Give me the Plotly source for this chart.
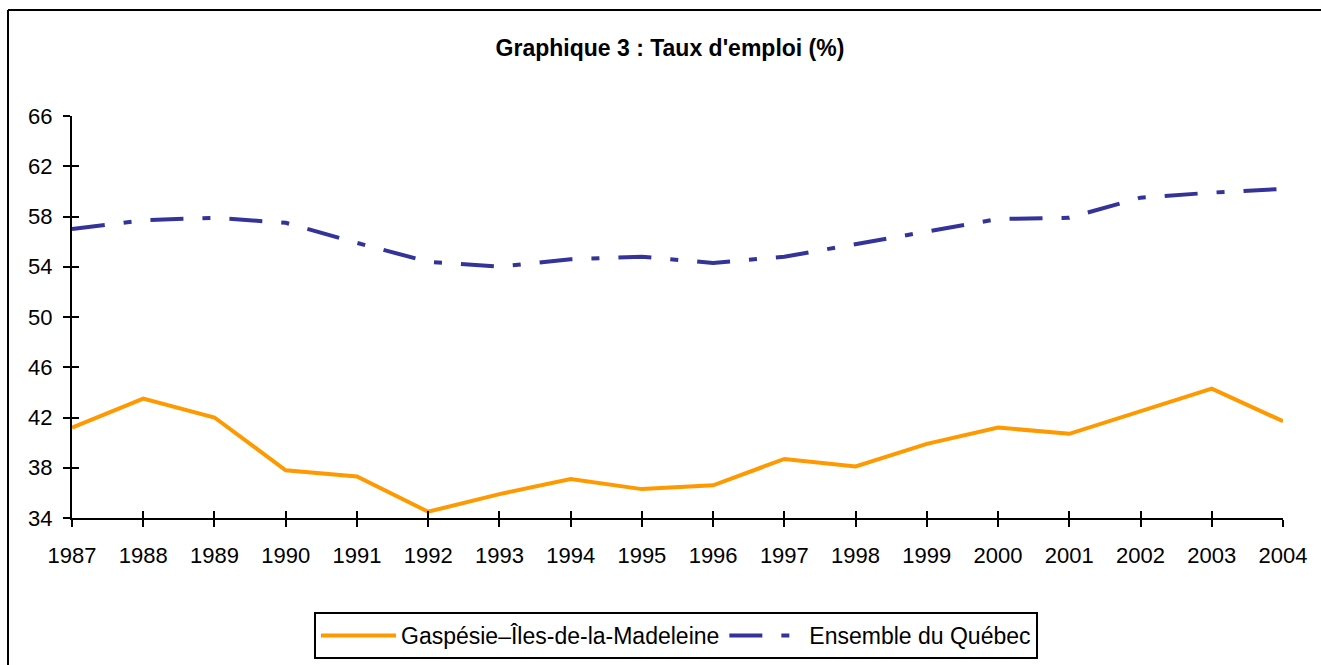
import plotly.graph_objects as go

years = [str(y) for y in range(1987, 2005)]
gaspesie = [41.2, 43.5, 42.0, 37.8, 37.3, 34.5, 35.9, 37.1, 36.3, 36.6, 38.7, 38.1, 39.9, 41.2, 40.7, 42.5, 44.3, 41.7]
quebec = [57.0, 57.7, 57.9, 57.5, 55.9, 54.4, 54.0, 54.6, 54.8, 54.3, 54.8, 55.8, 56.8, 57.8, 57.9, 59.5, 59.9, 60.2]
y_ticks = [34, 38, 42, 46, 50, 54, 58, 62, 66]

W, H = 1321, 665
L, R, T, B = 72, 38, 116, 147
pw, ph = W - L - R, H - T - B

fig = go.Figure()
fig.add_trace(go.Scatter(x=years, y=gaspesie, mode="lines", name="Gaspésie–Îles-de-la-Madeleine",
                         line=dict(color="#FF9900", width=4)))
fig.add_trace(go.Scatter(x=years, y=quebec, mode="lines", name="Ensemble du Québec",
                         line=dict(color="#333399", width=4, dash="33px,19px,8px,19px")))

font = "Liberation Sans, Arial, sans-serif"
axis_common = dict(showline=True, linecolor="black", linewidth=2, ticks="outside", ticklen=7,
                   tickwidth=2, tickcolor="black", showgrid=False, zeroline=False, automargin=False,
                   tickfont=dict(family=font, size=22, color="black"))
fig.update_layout(
    width=W, height=H,
    margin=dict(l=L, r=R, t=T, b=B, autoexpand=False),
    paper_bgcolor="white", plot_bgcolor="white",
    title=dict(text="<b>Graphique 3 : Taux d'emploi (%)</b>", x=(670 - L) / pw, xanchor="center",
               xref="paper", y=1 - 48 / H, yanchor="middle",
               font=dict(family=font, size=23, color="black")),
    xaxis=dict(type="category", range=[0, 17], tickmode="array", tickvals=years, ticktext=years,
               ticklabelstandoff=10, **axis_common),
    yaxis=dict(range=[34, 66], tickmode="array", tickvals=y_ticks, ticklabelstandoff=6, **axis_common),
    xaxis2=dict(type="category", range=[0, 17], overlaying="x", tickmode="array", tickvals=years,
                ticks="inside", ticklen=7, tickwidth=2, tickcolor="black", showticklabels=False,
                showgrid=False, zeroline=False, showline=False, matches="x", automargin=False),
    yaxis2=dict(range=[34, 66], overlaying="y", tickmode="array", tickvals=y_ticks, ticks="inside",
                ticklen=7, tickwidth=2, tickcolor="black", showticklabels=False, showgrid=False,
                zeroline=False, showline=False, automargin=False),
    legend=dict(orientation="h", x=(676 - L) / pw, xanchor="center", y=-(612 - (T + ph)) / ph,
                yanchor="top", bordercolor="black", borderwidth=2, itemwidth=75,
                font=dict(family=font, size=23, color="black"), bgcolor="white"),
    showlegend=True,
)

# invisible helper trace so the secondary (inside-tick) axes render
fig.add_trace(go.Scatter(x=years, y=quebec, xaxis="x2", yaxis="y2", mode="lines",
                         line=dict(width=0), opacity=0, showlegend=False, hoverinfo="skip"))

# chart frame (left and top edges visible)
fig.add_shape(type="line", xref="paper", yref="paper",
              x0=(8 - L) / pw, x1=(8 - L) / pw, y0=(T + ph - (H + 5)) / ph, y1=(T + ph - 10) / ph,
              line=dict(color="black", width=2))
fig.add_shape(type="line", xref="paper", yref="paper",
              x0=(8 - L) / pw, x1=(W + 5 - L) / pw, y0=(T + ph - 10) / ph, y1=(T + ph - 10) / ph,
              line=dict(color="black", width=2))

fig.write_html("out.html", config={"displayModeBar": False},
               post_script="document.body.style.margin='0px';")
